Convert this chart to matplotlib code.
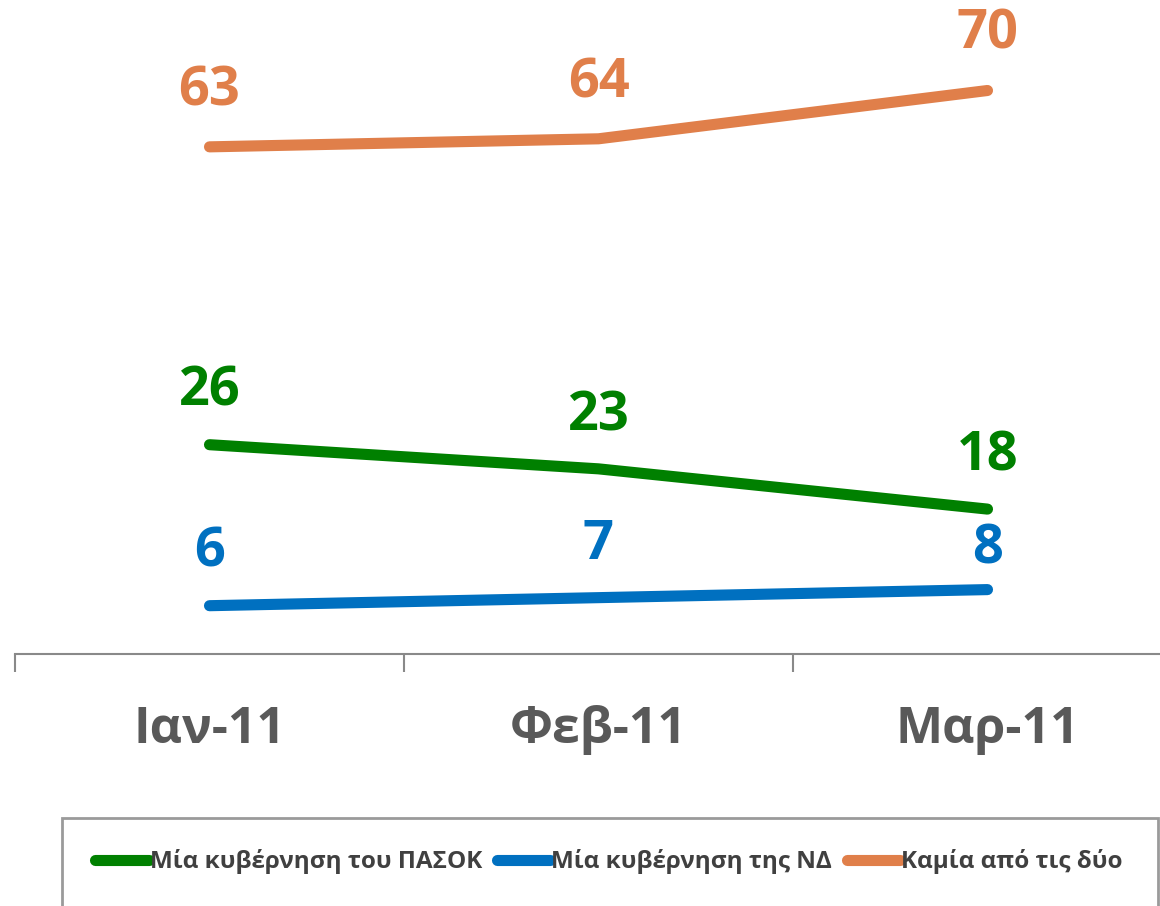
import matplotlib.pyplot as plt
from matplotlib.patches import Rectangle

# data
months = ['Ιαν-11', 'Φεβ-11', 'Μαρ-11']
pasok = [26, 23, 18]
nd = [6, 7, 8]
neither = [63, 64, 70]

series_names = ['Μία κυβέρνηση του ΠΑΣΟΚ', 'Μία κυβέρνηση της ΝΔ', 'Καμία από τις δύο']
colors = ['#008000', '#0070C0', '#E07F4A']
# vertical label offsets (points) per series/point
label_offsets = [[38, 38, 38], [38, 38, 29], [40, 40, 40]]

plt.rcParams['font.family'] = ['Open Sans', 'DejaVu Sans']

fig = plt.figure(figsize=(11.6, 9.06), dpi=100)
ax = fig.add_axes([15 / 1160, 252 / 906, 1167 / 1160, 644 / 906])

x = range(len(months))
for vals, name, c, offs in zip([pasok, nd, neither], series_names, colors, label_offsets):
    ax.plot(x, vals, color=c, lw=8, solid_capstyle='round', label=name)
    for xi, v, o in zip(x, vals, offs):
        ax.annotate(str(v), (xi, v), xytext=(0, o), textcoords='offset points',
                    ha='center', va='center', fontsize=39, fontweight='bold', color=c)

ax.set_xlim(-0.5, 2.5)
ax.set_ylim(0, 80)
ax.set_yticks([])
for s in ['top', 'right', 'left']:
    ax.spines[s].set_visible(False)
ax.spines['bottom'].set_color('#898989')
ax.spines['bottom'].set_linewidth(1.5)

ax.set_xticks(list(x))
ax.set_xticklabels(months, fontsize=36, fontweight='bold', color='#595959')
ax.tick_params(axis='x', which='major', length=0, pad=37)
ax.set_xticks([-0.5, 0.5, 1.5, 2.5], minor=True)
ax.tick_params(axis='x', which='minor', length=13, width=1.5, color='#898989')

# legend box
fig.patches.append(Rectangle((62 / 1160, -0.05), 1096 / 1160, 0.05 + 88 / 906,
                             transform=fig.transFigure, fill=False,
                             edgecolor='#9a9a9a', linewidth=2))
handles, labels = ax.get_legend_handles_labels()
leg = fig.legend(handles, labels, loc='center', bbox_to_anchor=(609 / 1160, 44 / 906),
                 ncol=3, frameon=False, handlelength=2.2, handletextpad=0.05,
                 columnspacing=0.6, prop={'size': 17.5, 'weight': 'bold'})
for t in leg.get_texts():
    t.set_color('#404040')
for ln in leg.get_lines():
    ln.set_solid_capstyle('round')

fig.savefig('out.png', dpi=100)
